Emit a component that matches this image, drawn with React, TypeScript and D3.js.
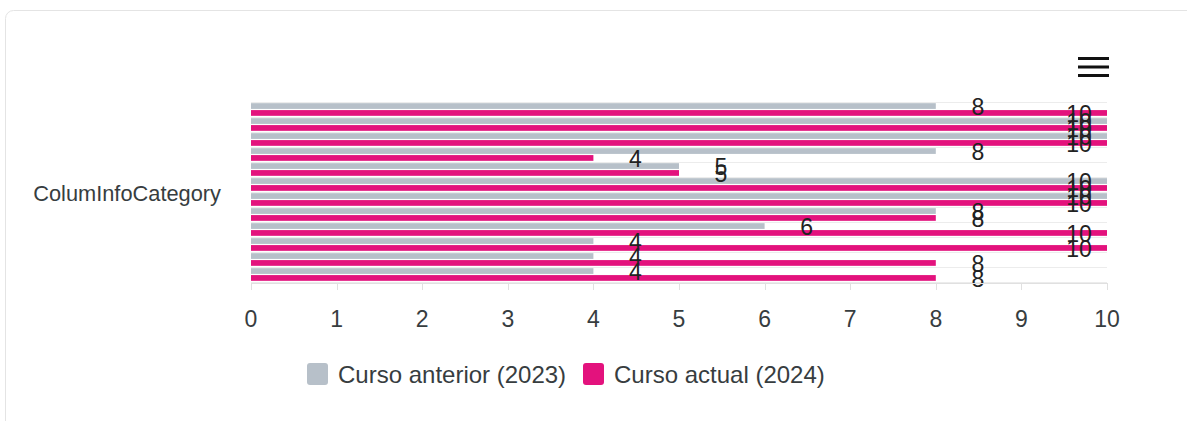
import React, { useRef, useEffect } from 'react';
import * as d3 from 'd3';

const category = 'ColumInfoCategory';
const seriesNames = ['Curso anterior (2023)', 'Curso actual (2024)'];
const prev2023 = [8, 10, 10, 8, 5, 10, 10, 8, 6, 4, 4, 4];
const curr2024 = [10, 10, 10, 4, 5, 10, 10, 8, 10, 10, 8, 8];
const xTicks = [0, 1, 2, 3, 4, 5, 6, 7, 8, 9, 10];

const colors = ['#b7c0c9', '#e3127d'];
const font = 'Helvetica, Arial, "Liberation Sans", sans-serif';

const App: React.FC = () => {
  const ref = useRef<SVGSVGElement>(null);

  useEffect(() => {
    const W = 1187;
    const H = 421;
    const svg = d3.select(ref.current).attr('width', W).attr('height', H);
    svg.selectAll('*').remove();

    // card
    svg.append('rect')
      .attr('x', 5.5).attr('y', 10.5)
      .attr('width', W + 20).attr('height', H)
      .attr('rx', 8)
      .attr('fill', '#fff')
      .attr('stroke', '#e4e4e4');

    const left = 251;
    const right = 1107;
    const top = 102;
    const bottom = 282;

    const x = d3.scaleLinear().domain([0, 10]).range([left, right]);
    const groups = d3.range(prev2023.length);
    const y0 = d3.scaleBand<number>().domain(groups).range([top, bottom]);
    const y1 = d3.scaleBand<number>().domain([0, 1]).range([0, y0.bandwidth()]).padding(0.17);

    const g = svg.append('g');

    // grid lines
    g.selectAll('line.grid')
      .data([...groups, groups.length])
      .join('line')
      .attr('x1', left).attr('x2', right)
      .attr('y1', d => (d === groups.length ? bottom : y0(d)!) + 0.5)
      .attr('y2', d => (d === groups.length ? bottom : y0(d)!) + 0.5)
      .attr('stroke', '#ececec');

    const rows = groups.map(i => [prev2023[i], curr2024[i]]);

    rows.forEach((vals, i) => {
      vals.forEach((v, s) => {
        g.append('rect')
          .attr('x', x(0))
          .attr('y', y0(i)! + y1(s)!)
          .attr('width', x(v) - x(0))
          .attr('height', y1.bandwidth())
          .attr('fill', colors[s]);
      });
    });

    // data labels
    rows.forEach((vals, i) => {
      vals.forEach((v, s) => {
        const cy = y0(i)! + y1(s)! + y1.bandwidth() / 2;
        g.append('text')
          .attr('x', v >= 10 ? x(v) - 28 : x(v) + 42)
          .attr('y', cy + 1)
          .attr('text-anchor', 'middle')
          .attr('dominant-baseline', 'central')
          .attr('font-family', font)
          .attr('font-size', 23)
          .attr('fill', '#222')
          .text(v);
      });
    });

    // x axis
    const axis = g.append('g').attr('transform', `translate(0,${bottom + 1})`);
    axis.append('line')
      .attr('x1', left).attr('x2', right)
      .attr('y1', 0.5).attr('y2', 0.5)
      .attr('stroke', '#e0e0e0');
    axis.selectAll('line.tick')
      .data(xTicks)
      .join('line')
      .attr('x1', d => Math.round(x(d)) + 0.5)
      .attr('x2', d => Math.round(x(d)) + 0.5)
      .attr('y1', 0).attr('y2', 7)
      .attr('stroke', '#e0e0e0');
    axis.selectAll('text')
      .data(xTicks)
      .join('text')
      .attr('x', d => x(d))
      .attr('y', 36)
      .attr('text-anchor', 'middle')
      .attr('dominant-baseline', 'central')
      .attr('font-family', font)
      .attr('font-size', 23)
      .attr('fill', '#373d3f')
      .text(d => d);

    // category label
    svg.append('text')
      .attr('x', 221)
      .attr('y', 193)
      .attr('text-anchor', 'end')
      .attr('dominant-baseline', 'central')
      .attr('font-family', font)
      .attr('font-size', 21.8)
      .attr('fill', '#373d3f')
      .text(category);

    // legend
    const legendX = [307, 583];
    seriesNames.forEach((name, i) => {
      const lg = svg.append('g').attr('transform', `translate(${legendX[i]},374)`);
      lg.append('rect')
        .attr('x', 0).attr('y', -11)
        .attr('width', 21).attr('height', 22)
        .attr('rx', 3)
        .attr('fill', colors[i]);
      lg.append('text')
        .attr('x', 31)
        .attr('y', 0)
        .attr('dominant-baseline', 'central')
        .attr('font-family', font)
        .attr('font-size', 24)
        .attr('fill', '#373d3f')
        .text(name);
    });

    // menu icon
    svg.selectAll('rect.menu')
      .data([0, 1, 2])
      .join('rect')
      .attr('x', 1078)
      .attr('y', d => 57 + d * 8.5)
      .attr('width', 31)
      .attr('height', 3)
      .attr('fill', '#111');
  }, []);

  return (
    <svg ref={ref} style={{ position: 'absolute', left: 0, top: 0, display: 'block' }}></svg>
  );
};

export default App;
